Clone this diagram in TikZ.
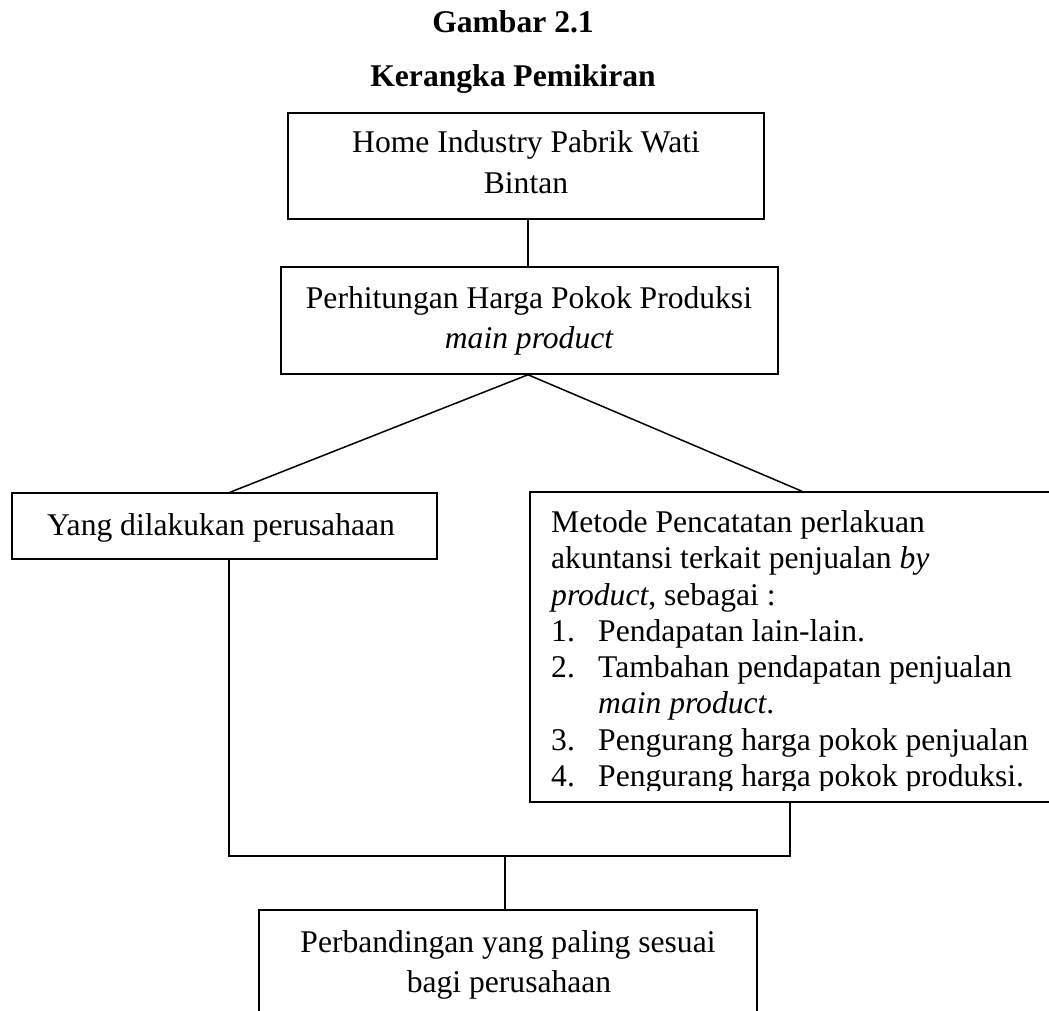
\documentclass[tikz,border=0pt]{standalone}
\usepackage{fontspec}
\setmainfont{Liberation Serif}
\begin{document}
\begin{tikzpicture}[x=1pt,y=-1pt,
  every node/.style={font=\fontsize{31.6}{38}\selectfont},
  box/.style={draw,line width=1.5pt,inner sep=0pt,rectangle},
  txt/.style={inner sep=0pt,anchor=base},
  ltxt/.style={inner sep=0pt,anchor=base west},
  ttl/.style={inner sep=0pt,anchor=base,font=\fontsize{31.6}{38}\selectfont\bfseries},
  conn/.style={line width=1.5pt}]
\clip (0,0) rectangle (1049,1011);
% titles
\node[ttl] (t1) at (513,33) {Gambar 2.1};
\node[ttl] (t2) at (513,87) {Kerangka Pemikiran};
% boxes
\node[box,minimum width=476pt,minimum height=106pt] (b1) at (526,166) {};
\node[box,minimum width=497pt,minimum height=107pt] (b2) at (529.5,320.5) {};
\node[box,minimum width=425pt,minimum height=66pt] (bl) at (224.5,526) {};
\node[box,minimum width=544pt,minimum height=310pt] (br) at (802,647) {};
\node[box,minimum width=498pt,minimum height=160pt] (bb) at (508,990) {};
% texts
\node[txt] (x1a) at (526,153) {Home Industry Pabrik Wati};
\node[txt] (x1b) at (526,194) {Bintan};
\node[txt] (x2a) at (529,308) {Perhitungan Harga Pokok Produksi};
\node[txt] (x2b) at (529,348) {\itshape main product};
\node[txt] (xl) at (221,535) {Yang dilakukan perusahaan};
\begin{scope}
\clip (532,494) rectangle (1049,790);
\node[ltxt] (r1) at (551,532) {Metode Pencatatan perlakuan};
\node[ltxt] (r2) at (551,568) {akuntansi terkait penjualan \textit{by}};
\node[ltxt] (r3) at (551,605) {\textit{product}, sebagai :};
\node[ltxt] (n1) at (551,641) {1.};
\node[ltxt] (i1) at (598,641) {Pendapatan lain-lain.};
\node[ltxt] (n2) at (551,677) {2.};
\node[ltxt] (i2) at (598,677) {Tambahan pendapatan penjualan};
\node[ltxt] (i2b) at (598,713) {\textit{main product}.};
\node[ltxt] (n3) at (551,750) {3.};
\node[ltxt] (i3) at (598,750) {Pengurang harga pokok penjualan};
\node[ltxt] (n4) at (551,786) {4.};
\node[ltxt] (i4) at (598,786) {Pengurang harga pokok produksi.};
\end{scope}
\node[txt] (xb1) at (508,952) {Perbandingan yang paling sesuai};
\node[txt] (xb2) at (509,992) {bagi perusahaan};
% connectors
\coordinate (jl) at (229,856);
\coordinate (jr) at (790,856);
\draw[conn] ([xshift=2pt]b1.south) -- ([xshift=2pt]b1.south |- b2.north);
\draw[conn] ([xshift=-1.5pt]b2.south) -- ([xshift=5.5pt]bl.north);
\draw[conn] ([xshift=-1.5pt]b2.south) -- (br.north);
\draw[conn] (jl |- bl.south) -- (jl) -- (jr) -- (jr |- br.south);
\draw[conn] ([xshift=-3pt]bb.north |- jr) -- ([xshift=-3pt]bb.north);
\end{tikzpicture}
\end{document}
